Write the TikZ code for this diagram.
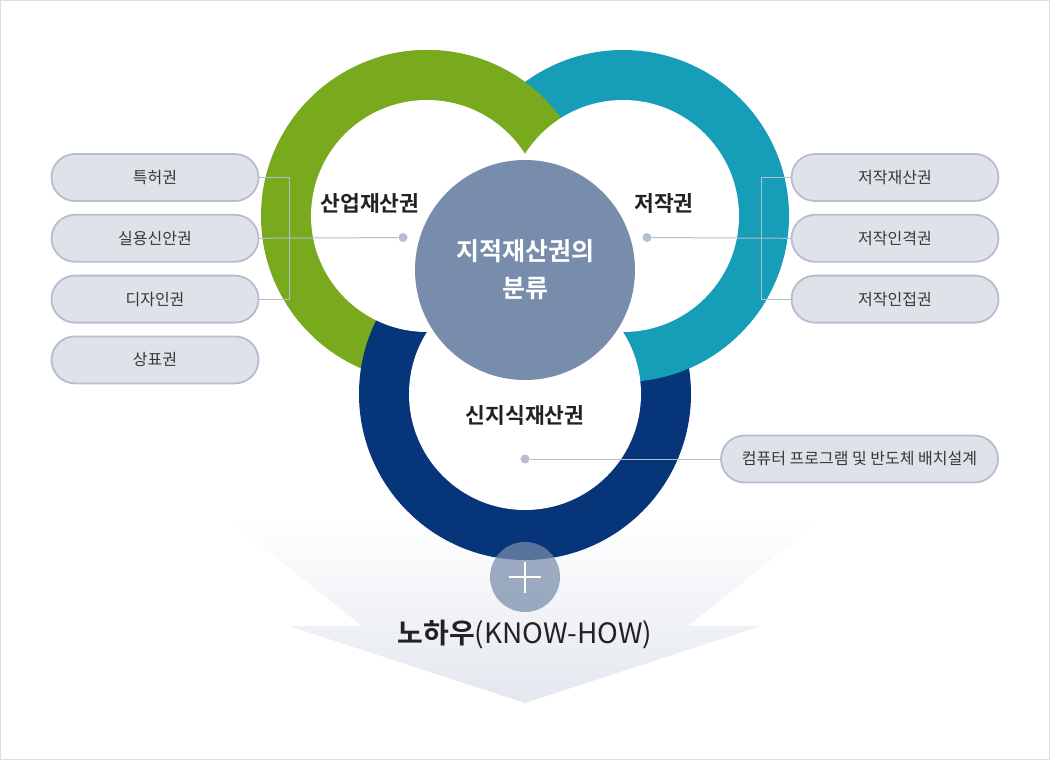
\documentclass[tikz,border=0pt]{standalone}
\usepackage{fontspec}
\setmainfont{Noto Sans CJK KR}[BoldFont={Noto Sans CJK KR Bold}]
\usetikzlibrary{positioning,shapes.misc}

\definecolor{ringgreen}{HTML}{79A91C}
\definecolor{ringblue}{HTML}{169EB8}
\definecolor{ringnavy}{HTML}{06357A}
\definecolor{coregray}{HTML}{788DAB}
\definecolor{pillfill}{HTML}{DFE2E8}
\definecolor{pillline}{HTML}{B5BECF}
\definecolor{arrowgray}{HTML}{E3E7EE}
\definecolor{textdark}{HTML}{222222}
\definecolor{framegray}{HTML}{DDDDDD}

\begin{document}
\begin{tikzpicture}[x=1pt,y=-1pt,
    pill/.style={rounded rectangle, draw=pillline, line width=1.8pt, fill=pillfill,
      minimum width=207pt, minimum height=47pt, inner sep=0pt,
      font=\fontsize{16}{19}\selectfont, text=textdark!90},
    link/.style={draw=pillline, line width=1pt},
    dot/.style={circle, fill=pillline, minimum size=9pt, inner sep=0pt},
    ringlabel/.style={font=\bfseries\fontsize{21.5}{25}\selectfont, text=textdark}]

     \useasboundingbox (0,0) rectangle (1050,760);
     \draw[framegray, line width=1pt] (0.5,0.5) rectangle (1049.5,759.5);

     % down arrow behind the rings
     \shade[top color=white, bottom color=arrowgray]
       (228,519) -- (822,519) -- (688,626) -- (761,626) -- (525,703)
       -- (289,626) -- (362,626) -- cycle;

     % the three rings
     \coordinate (cg) at (427,216);
     \coordinate (cb) at (623,216);
     \coordinate (cn) at (525,394);
     \fill[ringgreen] (cg) circle (166pt);
     \fill[ringblue] (cb) circle (166pt);
     \fill[ringnavy] (cn) circle (166pt);
     \begin{scope}
       \clip (525,300) rectangle (820,600);
       \fill[ringblue] (cb) circle (166pt);
     \end{scope}
     \begin{scope}
       \clip (380,0) rectangle (670,170);
       \fill[ringgreen] (cg) circle (166pt);
     \end{scope}
     \foreach \c in {cg,cb,cn}
       \fill[white] (\c) circle (116pt);

     \node[circle, fill=coregray, minimum size=220pt, inner sep=0pt, text=white,
       align=center, font=\bfseries\fontsize{25}{37}\selectfont] (core) at (525,270)
       {지적재산권의\\분류};

     \node[ringlabel] (ind) at (370,203) {산업재산권};
     \node[ringlabel] (copy) at (664,203) {저작권};
     \node[ringlabel] (new) at (525,415) {신지식재산권};

     \node[dot] (dotg) at (403,237.5) {};
     \node[dot] (dotb) at (647,237.5) {};
     \node[dot] (dotn) at (525,459) {};

     % left column
     \node[pill] (p1) at (155,177.5) {특허권};
     \node[pill] (p2) [below=12pt of p1] {실용신안권};
     \node[pill] (p3) [below=12pt of p2] {디자인권};
     \node[pill] (p4) [below=12pt of p3] {상표권};

     % right column
     \node[pill] (q1) at (895,177.5) {저작재산권};
     \node[pill] (q2) [below=12pt of q1] {저작인격권};
     \node[pill] (q3) [below=12pt of q2] {저작인접권};
     \node[pill, minimum width=277pt] (r1) at (859.5,459) {컴퓨터 프로그램 및 반도체 배치설계};

     \draw[link] (p1.east) -- ++(30pt,0) |- (p3.east);
     \draw[link] (p2.east) -- (dotg);
     \draw[link] (q1.west) -- ++(-29pt,0) |- (q3.west);
     \draw[link] (q2.west) -- (dotb);
     \draw[link] (r1.west) -- (dotn);

     % plus and know-how
     \node[circle, fill=coregray, fill opacity=0.72, minimum size=70pt, inner sep=0pt] (plus) at (525,577) {};
     \draw[white, line width=1.4pt] ([xshift=-16pt]plus.center) -- ([xshift=16pt]plus.center);
     \draw[white, line width=1.4pt] ([yshift=-15.5pt]plus.center) -- ([yshift=15.5pt]plus.center);
     \node[font=\fontsize{28}{32}\selectfont, text=textdark] (know) at (525,635) {\textbf{노하우}(KNOW-HOW)};
\end{tikzpicture}
\end{document}
